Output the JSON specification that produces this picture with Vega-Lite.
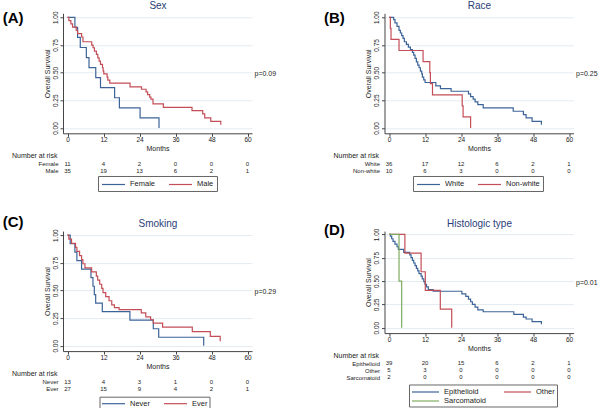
{
  "$schema": "https://vega.github.io/schema/vega-lite/v6.json",
  "padding": {"left": 2, "top": 0.3, "right": 0, "bottom": 0},
  "background": "white",
  "datasets": {
    "sex": [
      {"g":"Female","t":0,"s":1},{"g":"Female","t":2.47,"s":0.909},{"g":"Female","t":3.36,"s":0.818},{"g":"Female","t":4.26,"s":0.727},{"g":"Female","t":6.28,"s":0.636},{"g":"Female","t":7.17,"s":0.545},{"g":"Female","t":9.42,"s":0.455},{"g":"Female","t":11.0,"s":0.364},{"g":"Female","t":15.7,"s":0.273},{"g":"Female","t":17.3,"s":0.182},{"g":"Female","t":24.2,"s":0.091},{"g":"Female","t":30.5,"s":0},
      {"g":"Male","t":0,"s":1},{"g":"Male","t":0.45,"s":0.970},{"g":"Male","t":1.12,"s":0.940},{"g":"Male","t":1.68,"s":0.912},{"g":"Male","t":2.91,"s":0.882},{"g":"Male","t":3.36,"s":0.852},{"g":"Male","t":4.71,"s":0.822},{"g":"Male","t":5.16,"s":0.779},{"g":"Male","t":8.07,"s":0.749},{"g":"Male","t":8.52,"s":0.725},{"g":"Male","t":8.97,"s":0.695},{"g":"Male","t":9.64,"s":0.665},{"g":"Male","t":10.09,"s":0.634},{"g":"Male","t":10.54,"s":0.604},{"g":"Male","t":10.99,"s":0.574},{"g":"Male","t":11.66,"s":0.544},{"g":"Male","t":11.88,"s":0.514},{"g":"Male","t":12.1,"s":0.489},{"g":"Male","t":13.2,"s":0.459},{"g":"Male","t":13.45,"s":0.432},{"g":"Male","t":14.1,"s":0.405},{"g":"Male","t":20.85,"s":0.372},{"g":"Male","t":24.66,"s":0.350},{"g":"Male","t":26.2,"s":0.326},{"g":"Male","t":26.7,"s":0.302},{"g":"Male","t":27.4,"s":0.278},{"g":"Male","t":27.8,"s":0.260},{"g":"Male","t":28.5,"s":0.218},{"g":"Male","t":31.95,"s":0.187},{"g":"Male","t":41.5,"s":0.157},{"g":"Male","t":45.07,"s":0.127},{"g":"Male","t":45.74,"s":0.091},{"g":"Male","t":47.76,"s":0.060},{"g":"Male","t":51.1,"s":0.03}
    ],
    "race": [
      {"g":"White","t":0,"s":1},{"g":"White","t":1.56,"s":0.979},{"g":"White","t":2.0,"s":0.949},{"g":"White","t":2.67,"s":0.918},{"g":"White","t":3.34,"s":0.882},{"g":"White","t":3.79,"s":0.858},{"g":"White","t":4.23,"s":0.834},{"g":"White","t":4.68,"s":0.810},{"g":"White","t":5.12,"s":0.779},{"g":"White","t":5.79,"s":0.755},{"g":"White","t":6.46,"s":0.731},{"g":"White","t":7.13,"s":0.707},{"g":"White","t":7.8,"s":0.683},{"g":"White","t":8.24,"s":0.659},{"g":"White","t":8.69,"s":0.628},{"g":"White","t":9.13,"s":0.598},{"g":"White","t":9.58,"s":0.568},{"g":"White","t":10.02,"s":0.544},{"g":"White","t":10.47,"s":0.514},{"g":"White","t":10.91,"s":0.489},{"g":"White","t":11.14,"s":0.459},{"g":"White","t":11.58,"s":0.435},{"g":"White","t":12.03,"s":0.411},{"g":"White","t":15.6,"s":0.381},{"g":"White","t":17.15,"s":0.356},{"g":"White","t":20.7,"s":0.332},{"g":"White","t":26.5,"s":0.308},{"g":"White","t":27.2,"s":0.284},{"g":"White","t":28.06,"s":0.260},{"g":"White","t":28.7,"s":0.236},{"g":"White","t":29.6,"s":0.211},{"g":"White","t":31.4,"s":0.181},{"g":"White","t":41.4,"s":0.151},{"g":"White","t":44.8,"s":0.121},{"g":"White","t":45.7,"s":0.091},{"g":"White","t":47.7,"s":0.060},{"g":"White","t":50.8,"s":0.030},
      {"g":"Non-white","t":0,"s":1},{"g":"Non-white","t":0.45,"s":0.9},{"g":"Non-white","t":0.67,"s":0.8},{"g":"Non-white","t":3.34,"s":0.7},{"g":"Non-white","t":11.36,"s":0.6},{"g":"Non-white","t":13.6,"s":0.5},{"g":"Non-white","t":13.8,"s":0.4},{"g":"Non-white","t":14.5,"s":0.3},{"g":"Non-white","t":24.4,"s":0.2},{"g":"Non-white","t":24.7,"s":0.1},{"g":"Non-white","t":27.2,"s":0}
    ],
    "smoking": [
      {"g":"Never","t":0,"s":1},{"g":"Never","t":0.9,"s":0.923},{"g":"Never","t":2.46,"s":0.846},{"g":"Never","t":3.13,"s":0.769},{"g":"Never","t":4.69,"s":0.692},{"g":"Never","t":7.82,"s":0.615},{"g":"Never","t":8.49,"s":0.538},{"g":"Never","t":8.94,"s":0.462},{"g":"Never","t":9.39,"s":0.385},{"g":"Never","t":11.6,"s":0.308},{"g":"Never","t":20.8,"s":0.231},{"g":"Never","t":28.6,"s":0.154},{"g":"Never","t":30.4,"s":0.077},{"g":"Never","t":45.4,"s":0},
      {"g":"Ever","t":0,"s":1},{"g":"Ever","t":0.45,"s":0.963},{"g":"Ever","t":1.34,"s":0.926},{"g":"Ever","t":2.68,"s":0.889},{"g":"Ever","t":3.13,"s":0.852},{"g":"Ever","t":4.02,"s":0.815},{"g":"Ever","t":4.69,"s":0.778},{"g":"Ever","t":5.14,"s":0.741},{"g":"Ever","t":5.81,"s":0.704},{"g":"Ever","t":8.04,"s":0.667},{"g":"Ever","t":9.61,"s":0.630},{"g":"Ever","t":10.06,"s":0.593},{"g":"Ever","t":10.73,"s":0.556},{"g":"Ever","t":11.4,"s":0.519},{"g":"Ever","t":11.84,"s":0.481},{"g":"Ever","t":12.74,"s":0.444},{"g":"Ever","t":13.85,"s":0.407},{"g":"Ever","t":14.75,"s":0.370},{"g":"Ever","t":15.64,"s":0.345},{"g":"Ever","t":17.2,"s":0.326},{"g":"Ever","t":24.6,"s":0.297},{"g":"Ever","t":26.1,"s":0.262},{"g":"Ever","t":27.7,"s":0.235},{"g":"Ever","t":28.6,"s":0.205},{"g":"Ever","t":31.7,"s":0.169},{"g":"Ever","t":41.6,"s":0.127},{"g":"Ever","t":47.6,"s":0.085},{"g":"Ever","t":50.9,"s":0.042}
    ],
    "histo": [
      {"g":"Epithelioid","t":0,"s":1},{"g":"Epithelioid","t":0.45,"s":0.982},{"g":"Epithelioid","t":0.89,"s":0.954},{"g":"Epithelioid","t":1.34,"s":0.925},{"g":"Epithelioid","t":2.0,"s":0.897},{"g":"Epithelioid","t":2.67,"s":0.868},{"g":"Epithelioid","t":3.12,"s":0.840},{"g":"Epithelioid","t":4.9,"s":0.808},{"g":"Epithelioid","t":6.9,"s":0.780},{"g":"Epithelioid","t":7.35,"s":0.751},{"g":"Epithelioid","t":7.8,"s":0.722},{"g":"Epithelioid","t":8.24,"s":0.694},{"g":"Epithelioid","t":8.69,"s":0.665},{"g":"Epithelioid","t":9.13,"s":0.637},{"g":"Epithelioid","t":9.58,"s":0.609},{"g":"Epithelioid","t":10.0,"s":0.580},{"g":"Epithelioid","t":10.7,"s":0.552},{"g":"Epithelioid","t":11.1,"s":0.523},{"g":"Epithelioid","t":11.6,"s":0.495},{"g":"Epithelioid","t":12.0,"s":0.466},{"g":"Epithelioid","t":12.5,"s":0.438},{"g":"Epithelioid","t":13.1,"s":0.409},{"g":"Epithelioid","t":14.7,"s":0.391},{"g":"Epithelioid","t":24.3,"s":0.363},{"g":"Epithelioid","t":25.6,"s":0.335},{"g":"Epithelioid","t":26.5,"s":0.306},{"g":"Epithelioid","t":27.2,"s":0.278},{"g":"Epithelioid","t":27.8,"s":0.249},{"g":"Epithelioid","t":28.7,"s":0.221},{"g":"Epithelioid","t":29.6,"s":0.192},{"g":"Epithelioid","t":31.4,"s":0.171},{"g":"Epithelioid","t":41.6,"s":0.142},{"g":"Epithelioid","t":44.8,"s":0.114},{"g":"Epithelioid","t":45.7,"s":0.093},{"g":"Epithelioid","t":47.7,"s":0.064},{"g":"Epithelioid","t":50.8,"s":0.036},
      {"g":"Other","t":0,"s":1},{"g":"Other","t":5.3,"s":0.8},{"g":"Other","t":10.7,"s":0.6},{"g":"Other","t":12.1,"s":0.4},{"g":"Other","t":17.1,"s":0.2},{"g":"Other","t":20.9,"s":0},
      {"g":"Sarcomatoid","t":0,"s":1},{"g":"Sarcomatoid","t":3.34,"s":0.5},{"g":"Sarcomatoid","t":4.23,"s":0}
    ],
    "risk_sex": [
      {"g":"Female","t":0,"n":11},{"g":"Female","t":12,"n":4},{"g":"Female","t":24,"n":2},{"g":"Female","t":36,"n":0},{"g":"Female","t":48,"n":0},{"g":"Female","t":60,"n":0},
      {"g":"Male","t":0,"n":35},{"g":"Male","t":12,"n":19},{"g":"Male","t":24,"n":13},{"g":"Male","t":36,"n":6},{"g":"Male","t":48,"n":2},{"g":"Male","t":60,"n":1}
    ],
    "risk_race": [
      {"g":"White","t":0,"n":36},{"g":"White","t":12,"n":17},{"g":"White","t":24,"n":12},{"g":"White","t":36,"n":6},{"g":"White","t":48,"n":2},{"g":"White","t":60,"n":1},
      {"g":"Non-white","t":0,"n":10},{"g":"Non-white","t":12,"n":6},{"g":"Non-white","t":24,"n":3},{"g":"Non-white","t":36,"n":0},{"g":"Non-white","t":48,"n":0},{"g":"Non-white","t":60,"n":0}
    ],
    "risk_smoking": [
      {"g":"Never","t":0,"n":13},{"g":"Never","t":12,"n":4},{"g":"Never","t":24,"n":3},{"g":"Never","t":36,"n":1},{"g":"Never","t":48,"n":0},{"g":"Never","t":60,"n":0},
      {"g":"Ever","t":0,"n":27},{"g":"Ever","t":12,"n":15},{"g":"Ever","t":24,"n":9},{"g":"Ever","t":36,"n":4},{"g":"Ever","t":48,"n":2},{"g":"Ever","t":60,"n":1}
    ],
    "risk_histo": [
      {"g":"Epithelioid","t":0,"n":39},{"g":"Epithelioid","t":12,"n":20},{"g":"Epithelioid","t":24,"n":15},{"g":"Epithelioid","t":36,"n":6},{"g":"Epithelioid","t":48,"n":2},{"g":"Epithelioid","t":60,"n":1},
      {"g":"Other","t":0,"n":5},{"g":"Other","t":12,"n":3},{"g":"Other","t":24,"n":0},{"g":"Other","t":36,"n":0},{"g":"Other","t":48,"n":0},{"g":"Other","t":60,"n":0},
      {"g":"Sarcomatoid","t":0,"n":2},{"g":"Sarcomatoid","t":12,"n":0},{"g":"Sarcomatoid","t":24,"n":0},{"g":"Sarcomatoid","t":36,"n":0},{"g":"Sarcomatoid","t":48,"n":0},{"g":"Sarcomatoid","t":60,"n":0}
    ]
  },
  "columns": 2,
  "spacing": {"row": 22.8, "column": 47.5},
  "resolve": {"scale": {"color": "independent", "x": "independent", "y": "independent"}, "legend": {"color": "independent"}},
  "concat": [
    {
      "bounds": "flush", "spacing": 27,
      "resolve": {"scale": {"x": "independent", "y": "independent", "color": "independent"}},
      "vconcat": [
        {
          "width": 189, "height": 120,
          "title": {"text": "(A)", "anchor": "start", "frame": "group", "fontSize": 15, "fontWeight": "bold", "color": "#000", "dx": -60.2, "dy": 25.4, "baseline": "top", "offset": 0},
          "data": {"name": "sex"},
          "resolve": {"axis": {"x": "independent", "y": "independent"}},
          "layer": [
            {
              "mark": {"type": "line", "interpolate": "step-after", "strokeWidth": 1.2},
              "encoding": {
                "x": {"field": "t", "type": "quantitative", "scale": {"domain": [-1.5, 61.5], "nice": false, "zero": false}, "axis": {"values": [0,12,24,36,48,60], "title": "Months", "labelPadding": 0.5, "titlePadding": 1.5, "labelFlush": false, "grid": false}},
                "y": {"field": "s", "type": "quantitative", "scale": {"domain": [-0.048, 1.036], "nice": false, "zero": false}, "axis": {"values": [0,0.25,0.5,0.75,1], "format": ".2f", "title": "Overall Survival", "grid": true, "gridColor": "#e4ebf1", "labelAngle": 270, "labelAlign": "center", "labelBaseline": "bottom", "labelPadding": 2, "titlePadding": 1.5, "labelFlush": false}},
                "color": {"field": "g", "type": "nominal", "scale": {"domain": ["Female","Male"], "range": ["#3d6499","#c44e57"]}, "legend": {"orient": "none", "legendX": 35, "legendY": 162.7, "direction": "horizontal"}}
              }
            },
            {
              "mark": {"type": "line", "opacity": 0},
              "encoding": {
                "x": {"field": "t", "type": "quantitative", "scale": {"domain": [-1.5, 61.5], "nice": false, "zero": false}, "axis": {"orient": "top", "title": "Sex", "labels": false, "ticks": false, "domain": false, "grid": false, "titleFontSize": 10, "titleColor": "#2a3d78", "titlePadding": 3}},
                "y": {"field": "s", "type": "quantitative", "scale": {"domain": [-0.048, 1.036], "nice": false, "zero": false}, "axis": {"orient": "right", "title": "p=0.09", "labels": false, "ticks": false, "domain": false, "grid": false, "titleAngle": 0, "titleAlign": "left", "titleBaseline": "middle", "titlePadding": 2, "titleFontSize": 7}},
                "detail": {"field": "g"}
              }
            }
          ]
        },
        {
          "width": 189, "height": {"step": 7},
          "title": {"text": "Number at risk", "anchor": "start", "frame": "group", "dx": -51, "offset": 1, "fontSize": 7, "fontWeight": "normal", "color": "#222"},
          "data": {"name": "risk_sex"},
          "mark": {"type": "text", "fontSize": 6, "color": "#222"},
          "encoding": {
            "x": {"field": "t", "type": "quantitative", "scale": {"domain": [-1.5, 61.5], "nice": false, "zero": false}, "axis": null},
            "y": {"field": "g", "type": "nominal", "sort": ["Female","Male"], "axis": {"title": null, "domain": false, "ticks": false, "labelPadding": 5, "labelFontSize": 6}},
            "text": {"field": "n"}
          }
        }
      ]
    },
    {
      "bounds": "flush", "spacing": 27,
      "resolve": {"scale": {"x": "independent", "y": "independent", "color": "independent"}},
      "vconcat": [
        {
          "width": 189, "height": 120,
          "title": {"text": "(B)", "anchor": "start", "frame": "group", "fontSize": 15, "fontWeight": "bold", "color": "#000", "dx": -60.5, "dy": 25.4, "baseline": "top", "offset": 0},
          "data": {"name": "race"},
          "resolve": {"axis": {"x": "independent", "y": "independent"}},
          "layer": [
            {
              "mark": {"type": "line", "interpolate": "step-after", "strokeWidth": 1.2},
              "encoding": {
                "x": {"field": "t", "type": "quantitative", "scale": {"domain": [-1.5, 61.5], "nice": false, "zero": false}, "axis": {"values": [0,12,24,36,48,60], "title": "Months", "labelPadding": 0.5, "titlePadding": 1.5, "labelFlush": false, "grid": false}},
                "y": {"field": "s", "type": "quantitative", "scale": {"domain": [-0.048, 1.036], "nice": false, "zero": false}, "axis": {"values": [0,0.25,0.5,0.75,1], "format": ".2f", "title": "Overall Survival", "grid": true, "gridColor": "#e4ebf1", "labelAngle": 270, "labelAlign": "center", "labelBaseline": "bottom", "labelPadding": 2, "titlePadding": 1.5, "labelFlush": false}},
                "color": {"field": "g", "type": "nominal", "scale": {"domain": ["White","Non-white"], "range": ["#3d6499","#c44e57"]}, "legend": {"orient": "none", "legendX": 28.5, "legendY": 162.7, "direction": "horizontal"}}
              }
            },
            {
              "mark": {"type": "line", "opacity": 0},
              "encoding": {
                "x": {"field": "t", "type": "quantitative", "scale": {"domain": [-1.5, 61.5], "nice": false, "zero": false}, "axis": {"orient": "top", "title": "Race", "labels": false, "ticks": false, "domain": false, "grid": false, "titleFontSize": 10, "titleColor": "#2a3d78", "titlePadding": 3}},
                "y": {"field": "s", "type": "quantitative", "scale": {"domain": [-0.048, 1.036], "nice": false, "zero": false}, "axis": {"orient": "right", "title": "p=0.25", "labels": false, "ticks": false, "domain": false, "grid": false, "titleAngle": 0, "titleAlign": "left", "titleBaseline": "middle", "titlePadding": 2, "titleFontSize": 7}},
                "detail": {"field": "g"}
              }
            }
          ]
        },
        {
          "width": 189, "height": {"step": 7},
          "title": {"text": "Number at risk", "anchor": "start", "frame": "group", "dx": -51, "offset": 1, "fontSize": 7, "fontWeight": "normal", "color": "#222"},
          "data": {"name": "risk_race"},
          "mark": {"type": "text", "fontSize": 6, "color": "#222"},
          "encoding": {
            "x": {"field": "t", "type": "quantitative", "scale": {"domain": [-1.5, 61.5], "nice": false, "zero": false}, "axis": null},
            "y": {"field": "g", "type": "nominal", "sort": ["White","Non-white"], "axis": {"title": null, "domain": false, "ticks": false, "labelPadding": 5, "labelFontSize": 6}},
            "text": {"field": "n"}
          }
        }
      ]
    },
    {
      "bounds": "flush", "spacing": 27,
      "resolve": {"scale": {"x": "independent", "y": "independent", "color": "independent"}},
      "vconcat": [
        {
          "width": 189, "height": 120,
          "title": {"text": "(C)", "anchor": "start", "frame": "group", "fontSize": 15, "fontWeight": "bold", "color": "#000", "dx": -60.2, "dy": 12.3, "baseline": "top", "offset": 0},
          "data": {"name": "smoking"},
          "resolve": {"axis": {"x": "independent", "y": "independent"}},
          "layer": [
            {
              "mark": {"type": "line", "interpolate": "step-after", "strokeWidth": 1.2},
              "encoding": {
                "x": {"field": "t", "type": "quantitative", "scale": {"domain": [-1.5, 61.5], "nice": false, "zero": false}, "axis": {"values": [0,12,24,36,48,60], "title": "Months", "labelPadding": 0.5, "titlePadding": 1.5, "labelFlush": false, "grid": false}},
                "y": {"field": "s", "type": "quantitative", "scale": {"domain": [-0.048, 1.036], "nice": false, "zero": false}, "axis": {"values": [0,0.25,0.5,0.75,1], "format": ".2f", "title": "Overall Survival", "grid": true, "gridColor": "#e4ebf1", "labelAngle": 270, "labelAlign": "center", "labelBaseline": "bottom", "labelPadding": 2, "titlePadding": 1.5, "labelFlush": false}},
                "color": {"field": "g", "type": "nominal", "scale": {"domain": ["Never","Ever"], "range": ["#3d6499","#c44e57"]}, "legend": {"orient": "none", "legendX": 36.5, "legendY": 165.6, "direction": "horizontal", "padding": 1.5}}
              }
            },
            {
              "mark": {"type": "line", "opacity": 0},
              "encoding": {
                "x": {"field": "t", "type": "quantitative", "scale": {"domain": [-1.5, 61.5], "nice": false, "zero": false}, "axis": {"orient": "top", "title": "Smoking", "labels": false, "ticks": false, "domain": false, "grid": false, "titleFontSize": 10, "titleColor": "#2a3d78", "titlePadding": 3}},
                "y": {"field": "s", "type": "quantitative", "scale": {"domain": [-0.048, 1.036], "nice": false, "zero": false}, "axis": {"orient": "right", "title": "p=0.29", "labels": false, "ticks": false, "domain": false, "grid": false, "titleAngle": 0, "titleAlign": "left", "titleBaseline": "middle", "titlePadding": 2, "titleFontSize": 7}},
                "detail": {"field": "g"}
              }
            }
          ]
        },
        {
          "width": 189, "height": {"step": 7},
          "title": {"text": "Number at risk", "anchor": "start", "frame": "group", "dx": -51, "offset": 1, "fontSize": 7, "fontWeight": "normal", "color": "#222"},
          "data": {"name": "risk_smoking"},
          "mark": {"type": "text", "fontSize": 6, "color": "#222"},
          "encoding": {
            "x": {"field": "t", "type": "quantitative", "scale": {"domain": [-1.5, 61.5], "nice": false, "zero": false}, "axis": null},
            "y": {"field": "g", "type": "nominal", "sort": ["Never","Ever"], "axis": {"title": null, "domain": false, "ticks": false, "labelPadding": 5, "labelFontSize": 6}},
            "text": {"field": "n"}
          }
        }
      ]
    },
    {
      "bounds": "flush", "spacing": 27,
      "resolve": {"scale": {"x": "independent", "y": "independent", "color": "independent"}},
      "vconcat": [
        {
          "width": 189, "height": 102,
          "title": {"text": "(D)", "anchor": "start", "frame": "group", "fontSize": 15, "fontWeight": "bold", "color": "#000", "dx": -60.5, "dy": 19.7, "baseline": "top", "offset": 0},
          "data": {"name": "histo"},
          "resolve": {"axis": {"x": "independent", "y": "independent"}},
          "layer": [
            {
              "mark": {"type": "line", "interpolate": "step-after", "strokeWidth": 1.2},
              "encoding": {
                "x": {"field": "t", "type": "quantitative", "scale": {"domain": [-1.5, 61.5], "nice": false, "zero": false}, "axis": {"values": [0,12,24,36,48,60], "title": "Months", "labelPadding": 0.5, "titlePadding": 1.5, "labelFlush": false, "grid": false}},
                "y": {"field": "s", "type": "quantitative", "scale": {"domain": [-0.058, 1.036], "nice": false, "zero": false}, "axis": {"values": [0,0.25,0.5,0.75,1], "format": ".2f", "title": "Overall Survival", "grid": true, "gridColor": "#e4ebf1", "labelAngle": 270, "labelAlign": "center", "labelBaseline": "bottom", "labelPadding": 2, "titlePadding": 1.5, "labelFlush": false}},
                "color": {"field": "g", "type": "nominal", "scale": {"domain": ["Epithelioid","Other","Sarcomatoid"], "range": ["#3d6499","#c44e57","#7fac5e"]}, "legend": {"orient": "none", "legendX": 24.5, "legendY": 153.4, "direction": "horizontal", "columns": 2, "columnPadding": 14, "symbolType": "M-1,0H5", "labelOffset": 22, "padding": 2, "rowPadding": 0}}
              }
            },
            {
              "mark": {"type": "line", "opacity": 0},
              "encoding": {
                "x": {"field": "t", "type": "quantitative", "scale": {"domain": [-1.5, 61.5], "nice": false, "zero": false}, "axis": {"orient": "top", "title": "Histologic type", "labels": false, "ticks": false, "domain": false, "grid": false, "titleFontSize": 10, "titleColor": "#2a3d78", "titlePadding": 3}},
                "y": {"field": "s", "type": "quantitative", "scale": {"domain": [-0.058, 1.036], "nice": false, "zero": false}, "axis": {"orient": "right", "title": "p=0.01", "labels": false, "ticks": false, "domain": false, "grid": false, "titleAngle": 0, "titleAlign": "left", "titleBaseline": "middle", "titlePadding": 2, "titleFontSize": 7}},
                "detail": {"field": "g"}
              }
            }
          ]
        },
        {
          "width": 189, "height": {"step": 6.8},
          "title": {"text": "Number at risk", "anchor": "start", "frame": "group", "dx": -51, "offset": 1, "fontSize": 7, "fontWeight": "normal", "color": "#222"},
          "data": {"name": "risk_histo"},
          "mark": {"type": "text", "fontSize": 6, "color": "#222"},
          "encoding": {
            "x": {"field": "t", "type": "quantitative", "scale": {"domain": [-1.5, 61.5], "nice": false, "zero": false}, "axis": null},
            "y": {"field": "g", "type": "nominal", "sort": ["Epithelioid","Other","Sarcomatoid"], "axis": {"title": null, "domain": false, "ticks": false, "labelPadding": 5, "labelFontSize": 6}},
            "text": {"field": "n"}
          }
        }
      ]
    }
  ],
  "config": {
    "font": "Liberation Sans",
    "view": {"stroke": null},
    "axis": {"labelColor": "#222", "titleColor": "#222", "domainColor": "#444", "tickColor": "#444", "titleFontWeight": "normal", "labelFontSize": 6.5, "titleFontSize": 7, "tickSize": 3, "grid": false},
    "legend": {"title": null, "symbolType": "M-1,0H4.11", "symbolSize": 81, "symbolStrokeWidth": 1.2, "labelFontSize": 7.5, "labelOffset": 18, "columnPadding": 10, "padding": 3, "strokeColor": "#666", "fillColor": "#fff", "labelColor": "#222", "rowPadding": 0}
  }
}
